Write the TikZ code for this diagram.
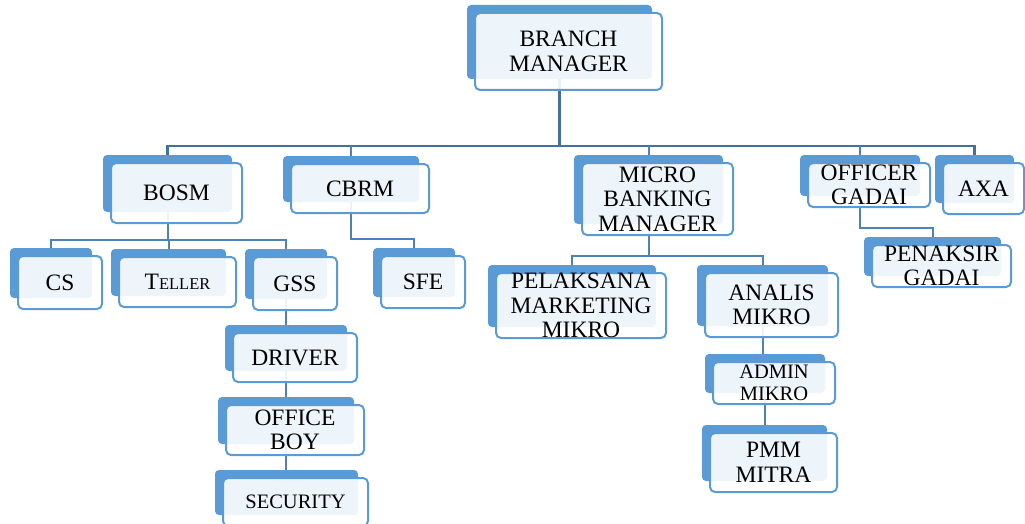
\documentclass[tikz,border=0pt]{standalone}
\usepackage{fontspec}
\setmainfont{Liberation Serif}
\pgfdeclarelayer{bg}
\pgfsetlayers{bg,main}
\definecolor{backblue}{HTML}{5B9BD5}
\definecolor{edgeblue}{HTML}{5B9BD5}
\definecolor{linkblue}{HTML}{4F81B9}
\definecolor{trunkblue}{HTML}{41719C}
\tikzset{
  backbox/.style={fill=backblue, rounded corners=4pt, inner sep=0pt, outer sep=0pt},
  frontbox/.style={draw=edgeblue, line width=2pt, fill=white, fill opacity=0.9, text opacity=1,
    rounded corners=5pt, inner sep=0pt, outer sep=0pt, align=center, text=black,
    font=\fontsize{23.5}{24.5}\selectfont},
  smalltext/.style={font=\fontsize{20.5}{22}\selectfont},
  conn/.style={draw=linkblue, line width=2pt},
  trunk/.style={draw=trunkblue, line width=2.6pt},
}
\newcommand\orgbox[7][]{%
  \node[backbox, minimum width={#5-#3-2}, minimum height={#6-#4-3}] (#2B) at ({(#3+#5)/2-9},{(#4+#6)/2-9.5}) {};
  \node[frontbox, #1, minimum width={#5-#3}, minimum height={#6-#4}] (#2) at ({(#3+#5)/2},{(#4+#6)/2}) {#7};
}
\begin{document}
\begin{tikzpicture}[x=1pt,y=-1pt]
\useasboundingbox (0,0) rectangle (1025,524);
\clip (0,0) rectangle (1025,524);
\orgbox{bm}{475}{13}{662}{90}{BRANCH\\MANAGER}
\orgbox{bosm}{111}{163}{242}{223}{BOSM}
\orgbox{cbrm}{291}{164}{429}{213}{CBRM}
\orgbox{mbm}{582}{163}{733}{235}{MICRO\\BANKING\\MANAGER}
\orgbox{og}{808}{163}{930}{207}{OFFICER\\GADAI}
\orgbox{axa}{943}{163}{1024}{214}{AXA}
\orgbox{cs}{18}{256}{102}{309}{CS}
\orgbox{teller}{119}{257}{236}{307}{T{\fontsize{16.5}{18}\selectfont ELLER}}
\orgbox{gss}{253}{257}{337}{310}{GSS}
\orgbox{sfe}{381}{256}{465}{308}{SFE}
\orgbox{pmk}{496}{273}{666}{338}{PELAKSANA\\MARKETING\\MIKRO}
\orgbox{am}{705}{273}{838}{337}{ANALIS\\MIKRO}
\orgbox{pg}{872}{245}{1011}{287}{PENAKSIR\\GADAI}
\orgbox{drv}{233}{333}{357}{382}{DRIVER}
\orgbox{ob}{226}{405}{364}{455}{OFFICE\\BOY}
\orgbox[smalltext]{sec}{223}{478}{368}{526}{SECURITY}
\orgbox[smalltext]{adm}{713}{362}{835}{404}{ADMIN\\MIKRO}
\orgbox{pmm}{710}{433}{837}{492}{PMM\\MITRA}
\coordinate (busA) at (0,146);
\coordinate (busB) at (0,240);
\coordinate (busC) at (0,239);
\coordinate (busD) at (0,256);
\coordinate (busE) at (0,228);
\begin{pgfonlayer}{bg}
\draw[trunk] (bmB.south) -- (bmB.south |- busA);
\draw[trunk] (bosmB.north) |- (axaB.north |- busA) -- (axaB.north);
\draw[conn] (cbrmB.north) -- (cbrmB.north |- busA);
\draw[conn] (mbmB.north) -- (mbmB.north |- busA);
\draw[conn] (ogB.north) -- (ogB.north |- busA);
\draw[conn] (bosmB.south) -- (bosmB.south |- busB);
\draw[conn] (csB.north) |- (gssB.north |- busB) -- (gssB.north);
\draw[conn] (tellerB.north) -- (tellerB.north |- busB);
\draw[conn] (gssB.south) -- (gssB.south |- drvB.north);
\draw[conn] (drvB.south) -- (drvB.south |- obB.north);
\draw[conn] (obB.south) -- (obB.south |- secB.north);
\draw[conn] (cbrmB.south) |- (sfeB.north |- busC) -- (sfeB.north);
\draw[conn] (mbmB.south) -- (mbmB.south |- busD);
\draw[conn] (pmkB.north) |- (amB.north |- busD) -- (amB.north);
\draw[conn] (amB.south) -- (amB.south |- admB.north);
\draw[conn] (admB.south) -- (admB.south |- pmmB.north);
\draw[conn] (ogB.south) |- (pgB.north |- busE) -- (pgB.north);
\end{pgfonlayer}
\end{tikzpicture}
\end{document}
